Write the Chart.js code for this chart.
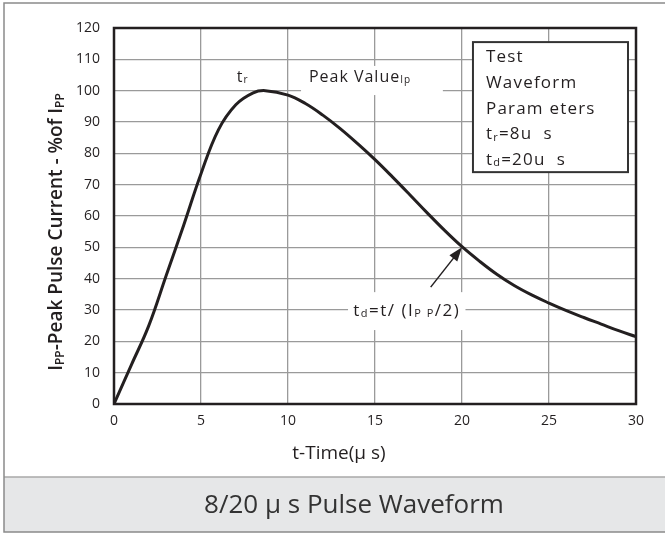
<!DOCTYPE html>
<html>
<head>
<meta charset="utf-8">
<script src="https://cdn.jsdelivr.net/npm/chart.js@4/dist/chart.umd.min.js"></script>
<style>
  html, body { margin: 0; padding: 0; background: #fff; }
  #wrap { width: 665px; height: 533px; position: relative; }
</style>
</head>
<body>
<div id="wrap"><canvas id="chart"></canvas></div>
<script>
// 8/20 us test waveform
const timeUs     = [0, 1, 2, 3, 4, 5, 6, 7, 8, 8.7, 10, 11, 12, 13, 14, 15, 16, 17, 18, 19, 20, 21, 22, 23, 24, 25, 26, 27, 28, 29, 30];
const currentPct = [0, 12.5, 25, 41, 57, 73.5, 87.5, 95.5, 99.3, 100, 98.6, 95.9, 92.2, 87.9, 83.1, 78, 72.5, 66.8, 61, 55.4, 50.2, 45.6, 41.4, 37.8, 34.8, 32.2, 29.8, 27.6, 25.5, 23.4, 21.5];

const xTicks = [0, 5, 10, 15, 20, 25, 30];
const yTicks = [0, 10, 20, 30, 40, 50, 60, 70, 80, 90, 100, 110, 120];

const legendLines = [
  [{ t: "Test" }],
  [{ t: "Waveform" }],
  [{ t: "Param eters" }],
  [{ t: "t" }, { t: "r", small: true }, { t: "=8u  s" }],
  [{ t: "t" }, { t: "d", small: true }, { t: "=20u  s" }],
];

const FONT = "'Open Sans', 'Noto Sans', sans-serif";
const INK = "#231f20";

// draw text made of normal + small (subscript) pieces
function rich(ctx, parts, x, y, size, align, weight) {
  weight = weight || "400";
  const fontOf = p => `${weight} ${p.small ? Math.round(size * 0.64) : size}px ${FONT}`;
  let total = 0;
  parts.forEach(p => { ctx.font = fontOf(p); total += ctx.measureText(p.t).width; });
  let cx = align === "center" ? x - total / 2 : align === "right" ? x - total : x;
  ctx.textAlign = "left";
  ctx.textBaseline = "alphabetic";
  parts.forEach(p => {
    ctx.font = fontOf(p);
    ctx.fillText(p.t, cx, y + (p.small ? size * 0.08 : 0));
    cx += ctx.measureText(p.t).width;
  });
}

const decor = {
  id: "decor",
  beforeDraw(chart) {
    const ctx = chart.ctx;
    ctx.save();
    ctx.fillStyle = "#fff";
    ctx.fillRect(0, 0, 665, 533);
    // caption band
    ctx.fillStyle = "#e6e7e8";
    ctx.fillRect(4, 477, 662, 55);
    ctx.strokeStyle = "#a8a8a8";
    ctx.lineWidth = 1.5;
    ctx.beginPath(); ctx.moveTo(4, 477); ctx.lineTo(665, 477); ctx.stroke();
    // outer frame
    ctx.strokeStyle = "#8a8a8a";
    ctx.lineWidth = 1.5;
    ctx.strokeRect(4, 3, 670, 529);
    ctx.fillStyle = "#333";
    rich(ctx, [{ t: "8/20" }, { t: " \u03bc " }, { t: "s Pulse Waveform" }], 354, 513, 26, "center", "500");
    ctx.restore();
  },
  beforeDatasetsDraw(chart) {
    const ctx = chart.ctx, x = chart.scales.x, y = chart.scales.y;
    ctx.save();
    ctx.fillStyle = "#fff";
    // white boxes behind the annotations
    ctx.fillRect(x.getPixelForValue(10.75), y.getPixelForValue(107.9), x.getPixelForValue(18.9) - x.getPixelForValue(10.75), y.getPixelForValue(98.6) - y.getPixelForValue(107.9));
    ctx.fillRect(x.getPixelForValue(13.45), y.getPixelForValue(35.7), x.getPixelForValue(20.2) - x.getPixelForValue(13.45), y.getPixelForValue(23.6) - y.getPixelForValue(35.7));
    ctx.fillStyle = INK;
    ctx.letterSpacing = "1px";
    rich(ctx, [{ t: "t" }, { t: "r", small: true }], x.getPixelForValue(7.4), y.getPixelForValue(104.7) + 6, 16, "center");
    rich(ctx, [{ t: "Peak Value" }, { t: "I", small: true }, { t: "p", small: true }], x.getPixelForValue(11.2), y.getPixelForValue(104.7) + 6, 16, "left");
    ctx.letterSpacing = "1.5px";
    rich(ctx, [{ t: "t" }, { t: "d", small: true }, { t: "=t/ (" }, { t: "I" }, { t: "P P", small: true }, { t: "/2)" }],
      x.getPixelForValue(13.75), y.getPixelForValue(30) + 6, 17, "left");
    ctx.restore();
  },
  afterDatasetsDraw(chart) {
    const ctx = chart.ctx, x = chart.scales.x, y = chart.scales.y;
    const a = chart.chartArea;
    ctx.save();
    // plot box
    ctx.strokeStyle = INK;
    ctx.lineWidth = 2.5;
    ctx.strokeRect(a.left, a.top, a.right - a.left, a.bottom - a.top);

    // arrow to the half-value point
    const x0 = x.getPixelForValue(18.2), y0 = y.getPixelForValue(37.3);
    const x1 = x.getPixelForValue(20), y1 = y.getPixelForValue(50);
    const ang = Math.atan2(y1 - y0, x1 - x0);
    ctx.lineWidth = 1.5;
    ctx.beginPath(); ctx.moveTo(x0, y0); ctx.lineTo(x1 - 8 * Math.cos(ang), y1 - 8 * Math.sin(ang)); ctx.stroke();
    ctx.fillStyle = INK;
    ctx.beginPath();
    ctx.moveTo(x1, y1);
    ctx.lineTo(x1 - 14 * Math.cos(ang) + 5 * Math.sin(ang), y1 - 14 * Math.sin(ang) - 5 * Math.cos(ang));
    ctx.lineTo(x1 - 14 * Math.cos(ang) - 5 * Math.sin(ang), y1 - 14 * Math.sin(ang) + 5 * Math.cos(ang));
    ctx.closePath(); ctx.fill();

    // parameters box
    const bl = x.getPixelForValue(20.63), br = x.getPixelForValue(29.54);
    const bt = y.getPixelForValue(115.5), bb = y.getPixelForValue(74);
    ctx.fillStyle = "#fff";
    ctx.fillRect(bl, bt, br - bl, bb - bt);
    ctx.strokeStyle = "#333";
    ctx.lineWidth = 2;
    ctx.strokeRect(bl, bt, br - bl, bb - bt);
    ctx.fillStyle = INK;
    ctx.letterSpacing = "1.2px";
    legendLines.forEach((parts, i) => rich(ctx, parts, bl + 13, bt + 20 + i * 25.7, 17, "left"));

    // axis titles
    ctx.letterSpacing = "0px";
    rich(ctx, [{ t: "t-Time(" }, { t: "\u03bc", }, { t: " s)" }], 339, 459, 19, "center");
    ctx.translate(62, 232);
    ctx.rotate(-Math.PI / 2);
    rich(ctx, [{ t: "I" }, { t: "PP", small: true }, { t: "-Peak Pulse Current - %of I" }, { t: "PP", small: true }], 0, 0, 19, "center", "600");
    ctx.restore();
  }
};

new Chart(document.getElementById("chart"), {
  type: "line",
  data: {
    datasets: [{
      data: timeUs.map((t, i) => ({ x: t, y: currentPct[i] })),
      borderColor: INK,
      borderWidth: 3,
      pointRadius: 0,
      tension: 0.4,
      fill: false,
    }],
  },
  options: {
    responsive: true,
    maintainAspectRatio: false,
    animation: false,
    devicePixelRatio: 1,
    layout: { padding: { left: 0, right: 29, top: 28, bottom: 0 } },
    plugins: { legend: { display: false }, tooltip: { enabled: false } },
    scales: {
      x: {
        type: "linear",
        min: 0, max: 30,
        afterFit: s => { s.height = 129; },
        afterBuildTicks: s => { s.ticks = xTicks.map(v => ({ value: v })); },
        ticks: { color: INK, padding: 9, font: { family: FONT, size: 14 } },
        grid: { color: "#9a9a9a", lineWidth: 1.3, drawTicks: false },
        border: { display: false },
      },
      y: {
        min: 0, max: 120,
        afterFit: s => { s.width = 114; },
        afterBuildTicks: s => { s.ticks = yTicks.map(v => ({ value: v })); },
        ticks: { color: INK, padding: 14, font: { family: FONT, size: 14 } },
        grid: { color: "#9a9a9a", lineWidth: 1.3, drawTicks: false },
        border: { display: false },
      },
    },
  },
  plugins: [decor],
});
</script>
</body>
</html>
